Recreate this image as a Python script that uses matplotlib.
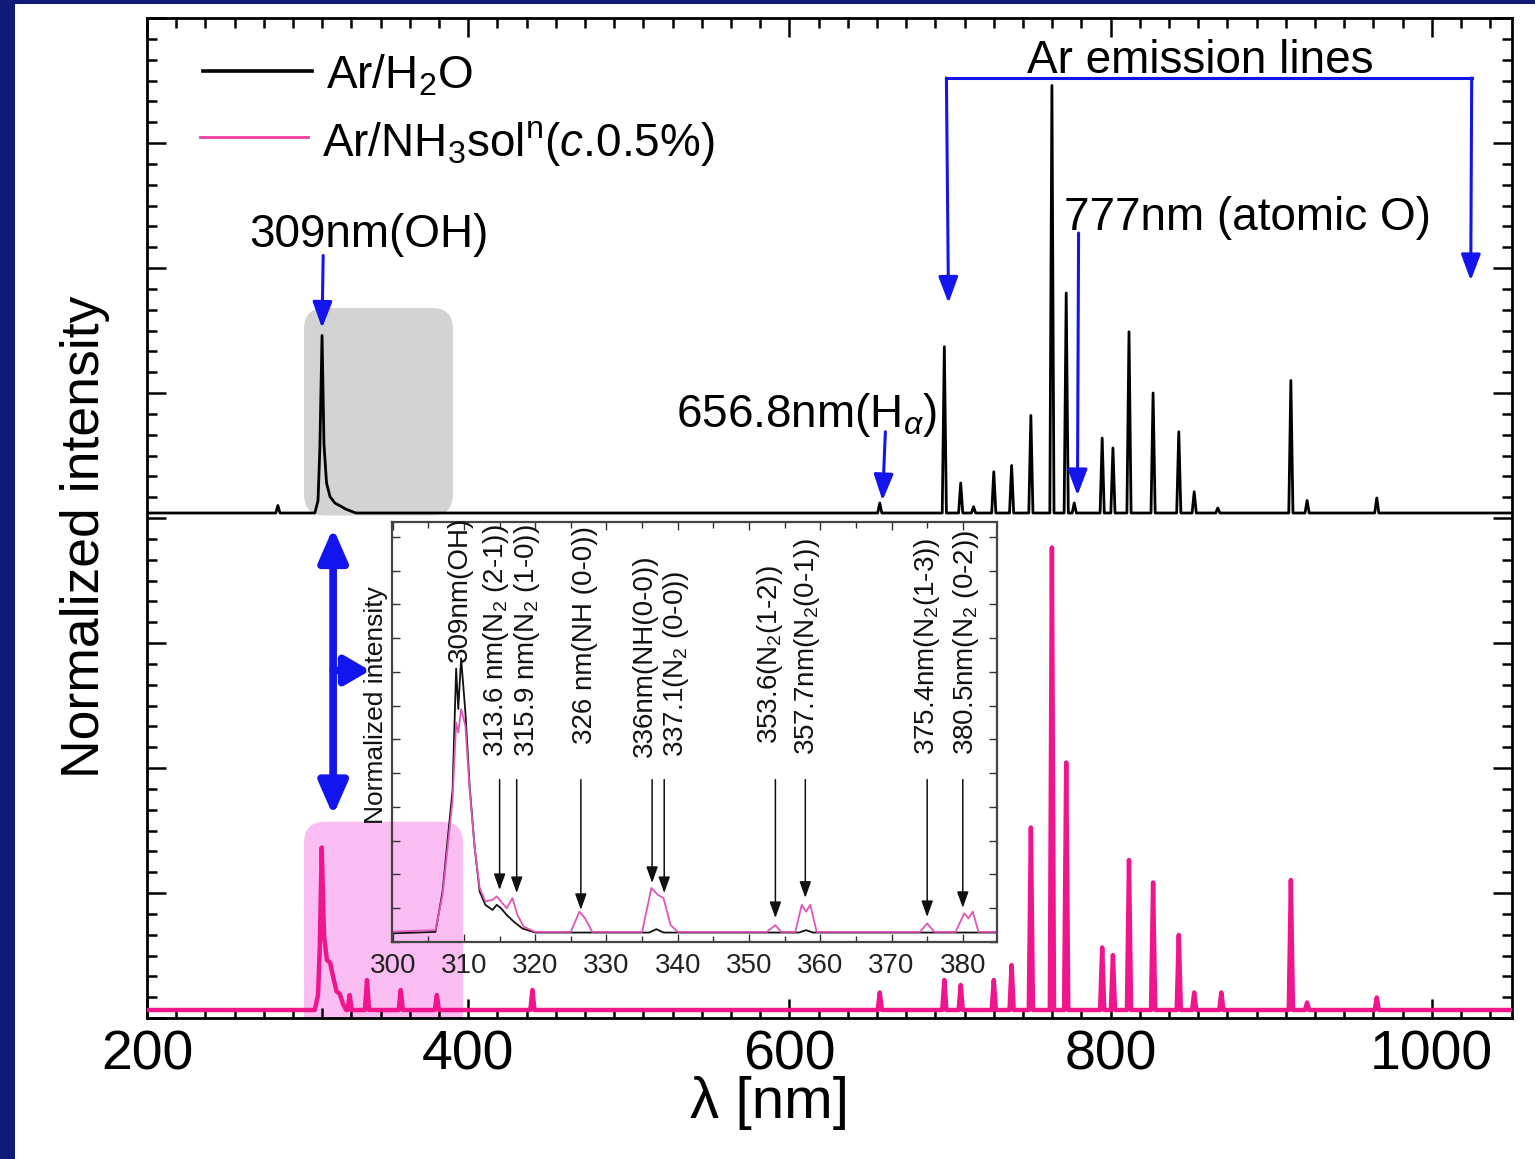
import matplotlib
matplotlib.use("Agg")
import matplotlib.pyplot as plt
from matplotlib.patches import FancyBboxPatch, Rectangle
from matplotlib.ticker import MultipleLocator, AutoMinorLocator, NullFormatter

plt.rcParams["font.family"] = "Liberation Sans"
plt.rcParams["mathtext.fontset"] = "custom"
plt.rcParams["mathtext.rm"] = "Liberation Sans"
plt.rcParams["mathtext.it"] = "Liberation Sans:italic"
plt.rcParams["mathtext.bf"] = "Liberation Sans:bold"

# ---- survey spectra (wavelength nm, intensity above baseline, normalized units)
H2O_OFFSET = 4.04
NH3_OFFSET = 0.064

h2o_oh_band = [(304.5, 0.0), (306.5, 0.10), (307.6, 0.50), (309.0, 1.42), (310.2, 0.55),
               (311.8, 0.24), (314.0, 0.13), (317.0, 0.08), (324.0, 0.03), (330.0, 0.0)]
h2o_lines_nm = [281.5, 656.3, 696.5, 706.7, 714.7, 727.3, 738.4, 750.4, 763.5, 772.4,
                777.4, 794.8, 801.5, 811.5, 826.5, 842.5, 852.1, 866.8, 912.3, 922.4, 965.8]
h2o_lines_h = [0.06, 0.08, 1.33, 0.24, 0.05, 0.33, 0.38, 0.78, 3.42, 1.76,
               0.08, 0.60, 0.52, 1.45, 0.96, 0.65, 0.17, 0.04, 1.06, 0.10, 0.12]

nh3_oh_band = [(304.5, 0.0), (306.5, 0.12), (307.6, 0.50), (308.8, 1.30), (310.2, 0.60),
               (312.0, 0.40), (314.0, 0.38), (316.0, 0.26), (318.0, 0.15), (320.0, 0.13),
               (322.0, 0.05), (324.0, 0.0)]
nh3_lines_nm = [326.2, 337.0, 358.0, 380.5, 440.0, 656.3, 696.5, 706.7, 727.3, 738.4,
                750.4, 763.5, 772.4, 794.8, 801.5, 811.5, 826.5, 842.5, 852.1, 869.0,
                912.3, 922.4, 965.8]
nh3_lines_h = [0.12, 0.24, 0.16, 0.12, 0.16, 0.14, 0.24, 0.20, 0.24, 0.36,
               1.46, 3.70, 1.98, 0.50, 0.44, 1.20, 1.02, 0.60, 0.14, 0.14,
               1.04, 0.06, 0.10]

# ---- zoomed OH / N2 / NH region (inset)
ins_h2o = [(299.0, 0.25), (306.0, 0.30), (307.0, 1.5), (307.6, 2.8), (308.4, 4.5),
           (308.9, 8.1), (309.2, 6.9), (309.6, 8.4), (310.2, 6.8), (310.8, 4.6),
           (311.5, 2.8), (312.2, 1.5), (313.0, 1.1), (314.0, 0.95), (314.6, 1.1),
           (315.2, 1.0), (316.0, 0.8), (317.0, 0.6), (318.2, 0.4), (320.0, 0.28),
           (336.0, 0.28), (337.0, 0.38), (338.0, 0.28), (357.0, 0.28), (358.0, 0.35),
           (359.0, 0.28), (385.0, 0.28)]
ins_nh3 = [(299.0, 0.30), (306.0, 0.35), (307.0, 1.4), (307.6, 2.6), (308.4, 4.2),
           (308.9, 6.5), (309.2, 6.2), (309.6, 6.9), (310.2, 6.4), (310.8, 4.5),
           (311.5, 2.8), (312.2, 1.6), (313.0, 1.2), (314.0, 1.25), (314.6, 1.35),
           (315.2, 1.2), (316.0, 1.0), (316.8, 1.3), (317.5, 0.8), (318.4, 0.45),
           (320.0, 0.30), (325.0, 0.30), (326.2, 0.9), (327.0, 0.7), (328.0, 0.30),
           (335.0, 0.30), (336.3, 1.6), (337.2, 1.4), (338.0, 1.3), (339.0, 0.5),
           (340.0, 0.30), (352.5, 0.30), (353.7, 0.5), (354.5, 0.30), (356.5, 0.30),
           (357.4, 1.1), (358.0, 0.9), (358.6, 1.1), (359.5, 0.30), (374.0, 0.30),
           (375.0, 0.55), (376.0, 0.30), (379.0, 0.30), (380.2, 0.85), (380.8, 0.7),
           (381.4, 0.9), (382.2, 0.30), (385.0, 0.30)]

ins_labels = ["309nm(OH)", "313.6 nm(N$_2$ (2-1))", "315.9 nm(N$_2$ (1-0))",
              "326 nm(NH (0-0))", "336nm(NH(0-0))", "337.1(N$_2$ (0-0))",
              "353.6(N$_2$(1-2))", "357.7nm(N$_2$(0-1))", "375.4nm(N$_2$(1-3))",
              "380.5nm(N$_2$ (0-2))"]
ins_label_x = [309.4, 314.5, 318.9, 327.0, 335.4, 339.8, 353.0, 358.1, 375.0, 380.4]
ins_label_y = [8.3, 5.49, 5.49, 5.85, 5.49, 5.49, 5.85, 5.55, 5.55, 5.55]
ins_arrow_x = [315.0, 317.4, 326.4, 336.4, 338.1, 353.7, 357.9, 375.0, 380.0]
ins_arrow_tip = [1.54, 1.45, 0.95, 1.75, 1.45, 0.71, 1.31, 0.74, 1.01]
INS_ARROW_TOP = 4.81

BLUE = "#1414ee"
PINK = "#f0158c"
NAVY = "#0f1b76"


def trace(band, lines_nm, lines_h, offset, hw=1.3, lo=200.0, hi=1050.0):
    pts = [(lo, 0.0), (hi, 0.0)] + list(band)
    for lam, h in zip(lines_nm, lines_h):
        pts += [(lam - hw, 0.0), (lam, h), (lam + hw, 0.0)]
    pts.sort()
    return [p[0] for p in pts], [p[1] + offset for p in pts]


fig = plt.figure(figsize=(15.35, 11.59), dpi=100, facecolor=NAVY)
fig.patches.append(Rectangle((15 / 1535, 0), 1, 1155 / 1159, transform=fig.transFigure,
                             facecolor="white", edgecolor="none", zorder=-10))

ax = fig.add_axes([147 / 1535, 1 - 1018 / 1159, 1365 / 1535, 1000 / 1159])
ax.set_xlim(200, 1050)
ax.set_ylim(0, 8)

# shaded regions behind the OH band
aspect = 1.605 / 125
ax.add_patch(FancyBboxPatch((297.8, 4.02), 92.7, 1.66,
                            boxstyle="round,pad=0,rounding_size=13",
                            mutation_aspect=aspect, facecolor="#d3d3d3",
                            edgecolor="none", zorder=1))
ax.add_patch(FancyBboxPatch((297.8, -0.4), 99.0, 1.97,
                            boxstyle="round,pad=0,rounding_size=13",
                            mutation_aspect=aspect, facecolor="#f9bdf2",
                            edgecolor="none", zorder=1))

x1, y1 = trace(h2o_oh_band, h2o_lines_nm, h2o_lines_h, H2O_OFFSET)
x2, y2 = trace(nh3_oh_band, nh3_lines_nm, nh3_lines_h, NH3_OFFSET)
ax.plot(x1, y1, color="black", lw=2.0, zorder=3)
ax.plot(x2, y2, color=PINK, lw=3.2, zorder=3)

# legend drawn by hand
ax.plot([234.9, 302.8], [7.58, 7.58], color="black", lw=2.6)
ax.plot([233.0, 300.3], [7.05, 7.05], color="#f03ca0", lw=2.0)
ax.text(311.5, 7.44, "Ar/H$_2$O", fontsize=33, va="baseline")
ax.text(309.0, 6.90, r"Ar/NH$_3$sol$^\mathrm{n}$($c$.0.5%)", fontsize=33, va="baseline")

# annotations
blue_arrow = dict(arrowstyle="-|>,head_length=0.8,head_width=0.3", color=BLUE,
                  lw=2.2, mutation_scale=20, shrinkA=0, shrinkB=0)
ax.text(338, 6.17, "309nm(OH)", fontsize=33, ha="center", va="baseline")
ax.annotate("", xy=(309.0, 5.52), xytext=(309.7, 6.10), arrowprops=blue_arrow)
ax.text(529.6, 4.73, r"656.8nm(H$_\alpha$)", fontsize=33, va="baseline")
ax.annotate("", xy=(658.0, 4.14), xytext=(659.8, 4.69), arrowprops=blue_arrow)
ax.text(771.3, 6.30, "777nm (atomic O)", fontsize=33, va="baseline")
ax.annotate("", xy=(779.4, 4.18), xytext=(780.1, 6.28), arrowprops=blue_arrow)
ax.text(856.1, 7.56, "Ar emission lines", fontsize=33, ha="center", va="baseline")
ax.plot([697.8, 1024.9], [7.52, 7.52], color=BLUE, lw=2.2)
ax.annotate("", xy=(699.1, 5.72), xytext=(697.8, 7.52), arrowprops=blue_arrow)
ax.annotate("", xy=(1024.3, 5.90), xytext=(1024.9, 7.52), arrowprops=blue_arrow)

thick = dict(color=BLUE, lw=5.5, mutation_scale=25, shrinkA=0, shrinkB=0)
ax.annotate("", xy=(315.9, 1.62), xytext=(315.9, 3.92),
            arrowprops=dict(arrowstyle="<|-|>,head_length=0.8,head_width=0.35", **thick))
ax.annotate("", xy=(338.9, 2.78), xytext=(315.9, 2.78),
            arrowprops=dict(arrowstyle="-|>,head_length=0.6,head_width=0.35", **thick))

ax.xaxis.set_major_locator(MultipleLocator(200))
ax.xaxis.set_minor_locator(AutoMinorLocator(11))
ax.yaxis.set_major_locator(MultipleLocator(1))
ax.yaxis.set_minor_locator(AutoMinorLocator(6))
ax.yaxis.set_major_formatter(NullFormatter())
ax.tick_params(which="both", direction="in", top=True, right=True, width=1.8)
ax.tick_params(which="major", length=14, labelsize=40, pad=8)
ax.tick_params(which="minor", length=7)
for s in ax.spines.values():
    s.set_linewidth(2.0)
ax.set_xlabel("λ [nm]", fontsize=42)
ax.xaxis.set_label_coords(0.456, -0.058)
ax.text(-0.0454, 0.481, "Normalized intensity", transform=ax.transAxes,
        rotation=90, ha="center", va="center", fontsize=38.5)

# ---- inset
ax_in = fig.add_axes([392 / 1535, 1 - 942 / 1159, 605 / 1535, 420 / 1159])
ax_in.set_facecolor("none")
ax_in.set_xlim(299.9, 384.8)
ax_in.set_ylim(0, 12.44)
ax_in.plot([p[0] for p in ins_h2o], [p[1] for p in ins_h2o], color="#111111", lw=1.3)
ax_in.plot([p[0] for p in ins_nh3], [p[1] for p in ins_nh3], color="#e055b8", lw=1.3)

for lbl, lx, ly in zip(ins_labels, ins_label_x, ins_label_y):
    ax_in.text(lx, ly, lbl, rotation=90, ha="center", va="bottom", fontsize=20,
               color="#111111", clip_on=False)
for axx, tip in zip(ins_arrow_x, ins_arrow_tip):
    ax_in.annotate("", xy=(axx, tip), xytext=(axx, INS_ARROW_TOP),
                   arrowprops=dict(arrowstyle="-|>,head_length=0.7,head_width=0.25",
                                   color="#111111", lw=1.1, mutation_scale=14,
                                   shrinkA=0, shrinkB=0))

ax_in.xaxis.set_major_locator(MultipleLocator(10))
ax_in.xaxis.set_minor_locator(MultipleLocator(5))
ax_in.yaxis.set_major_locator(MultipleLocator(1))
ax_in.yaxis.set_major_formatter(NullFormatter())
ax_in.tick_params(which="both", direction="in", top=True, right=True, width=1.0,
                  color="#333333")
ax_in.tick_params(which="major", length=6, labelsize=20, pad=8, labelcolor="#222222")
ax_in.tick_params(which="minor", length=4)
for s in ax_in.spines.values():
    s.set_linewidth(1.6)
    s.set_color("#444444")
ax_in.text(-0.026, 0.564, "Normalized intensity", transform=ax_in.transAxes,
           rotation=90, ha="center", va="center", fontsize=19, color="#111111")

fig.savefig("out.png", dpi=100, facecolor=fig.get_facecolor())
